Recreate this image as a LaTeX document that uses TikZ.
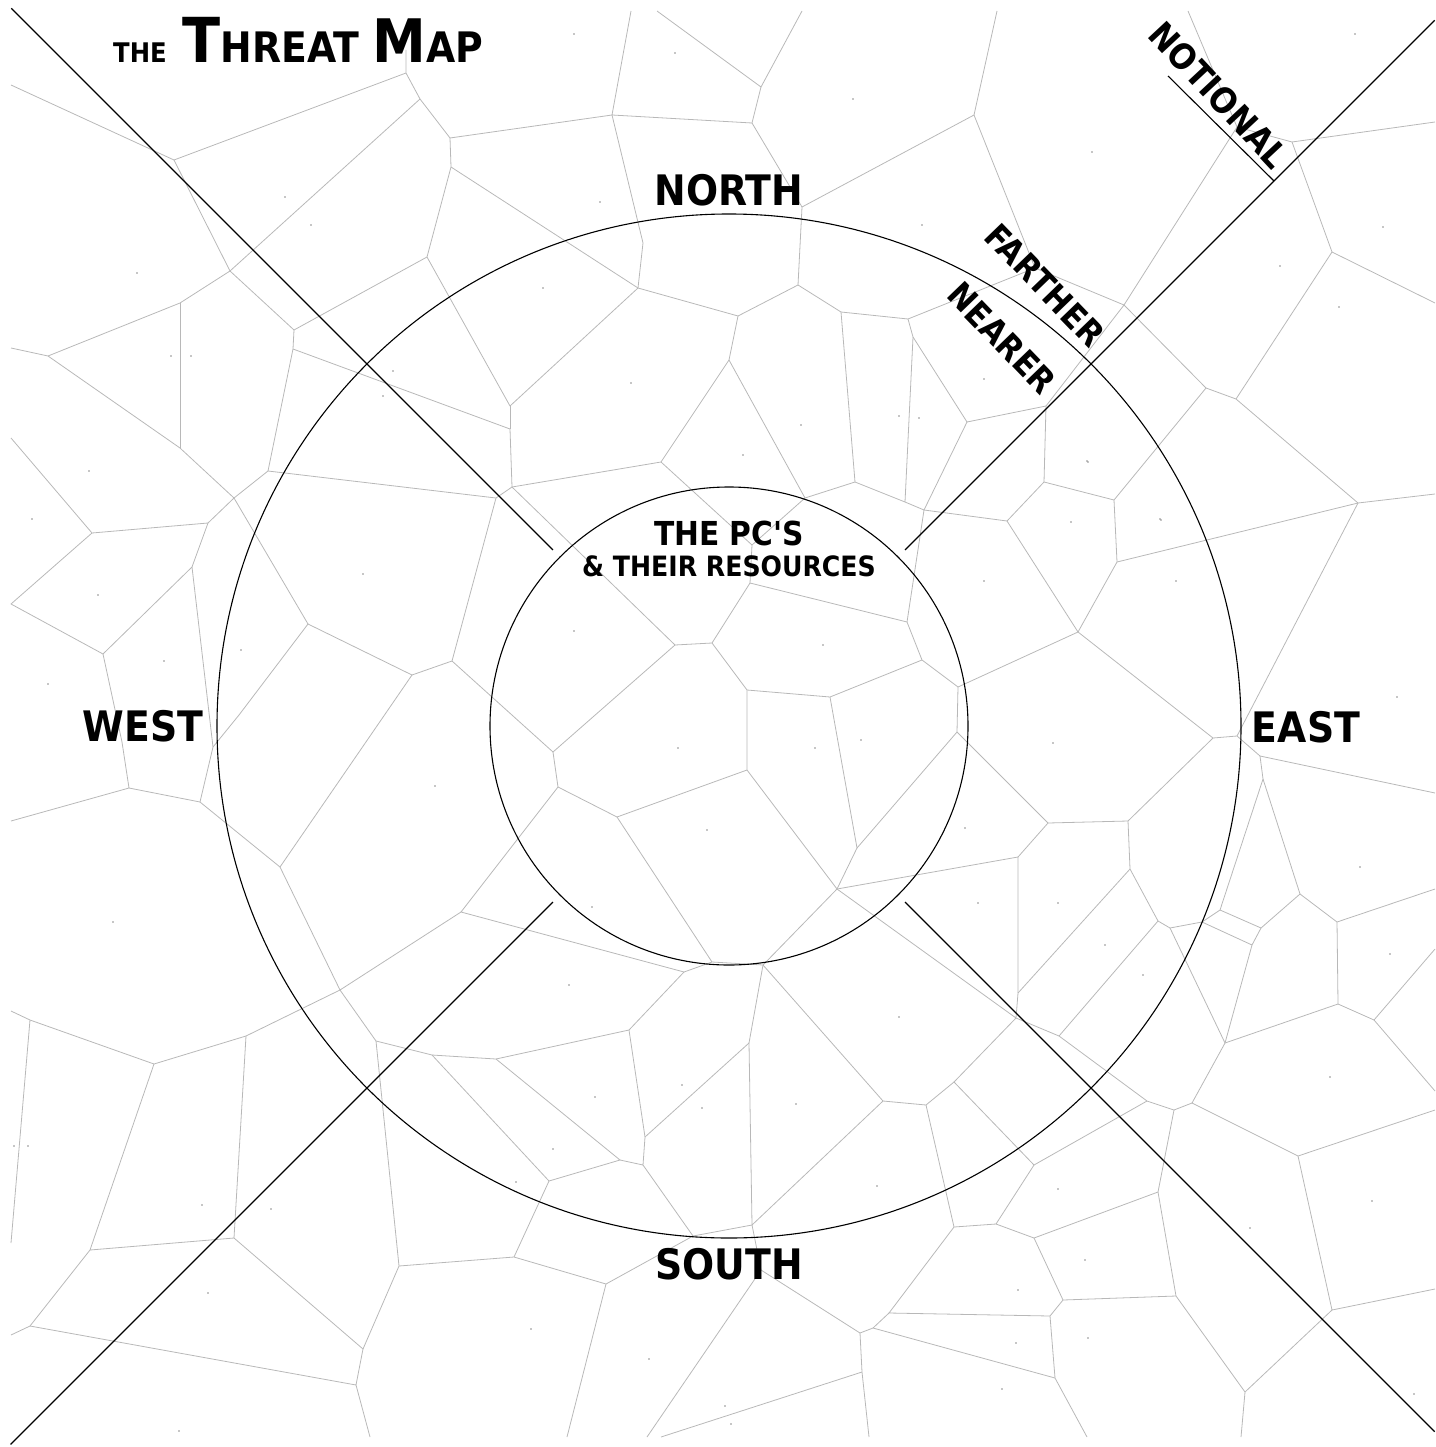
\documentclass[tikz,border=0pt]{standalone}
\usepackage{fontspec}
\usepackage{tikz}
\usetikzlibrary{calc}
\newfontfamily\grunge{DejaVu Sans}[FakeStretch=0.9]
\newcommand{\lblsize}[1]{\fontsize{#1}{#1}\selectfont}

\begin{document}
\begin{tikzpicture}[x=1pt, y=-1pt,
    cell/.style={black!28, line width=0.8pt, line join=round},
    seed/.style={fill=black!45},
    ring/.style={black, line width=1.1pt},
    ray/.style={black, line width=1.1pt},
    compass/.style={font=\grunge\bfseries\lblsize{42}, inner sep=0pt},
    band/.style={font=\grunge\bfseries\lblsize{34}, inner sep=0pt, rotate=-46}]
    \useasboundingbox (0,0) rectangle (1435,1447);

    % Voronoi cells, top left
    \draw[cell] (631,11) -- (612,115) -- (752,123);
    \draw[cell] (612,115) -- (450,138) -- (420,99) -- (406,73) -- (406,50);
    \draw[cell] (406,73) -- (174,160) -- (11,85);
    \draw[cell] (174,160) -- (230,271) -- (420,99);
    \draw[cell] (230,271) -- (294,330);
    \draw[cell] (230,271) -- (180,303) -- (48,356) -- (11,348);
    \draw[cell] (180,303) -- (180,448);
    \draw[cell] (48,356) -- (180,448) -- (234,498);
    \draw[cell] (11,438) -- (92,533) -- (208,523) -- (234,498) -- (268,471);
    \draw[cell] (234,498) -- (308,624);
    \draw[cell] (268,471) -- (293,349) -- (294,330) -- (427,257) -- (451,167) -- (450,138);
    \draw[cell] (293,349) -- (510,429) -- (512,487);
    \draw[cell] (268,471) -- (496,498) -- (512,487);
    \draw[cell] (451,167) -- (638,288) -- (510,406) -- (427,257);
    \draw[cell] (510,406) -- (510,429);
    \draw[cell] (638,288) -- (643,243) -- (612,115);
    \draw[cell] (638,288) -- (738,316);
    \draw[cell] (512,487) -- (661,462) -- (729,360);
    \draw[cell] (661,462) -- (752,545);
    \draw[cell] (512,487) -- (675,645);
    \draw[cell] (496,498) -- (452,661) -- (412,675) -- (308,624);
    \draw[cell] (452,661) -- (553,752);
    \draw[cell] (308,624) -- (239,715) -- (213,747);
    \draw[cell] (192,567) -- (213,747) -- (200,802);
    \draw[cell] (208,523) -- (192,567) -- (103,654) -- (11,604) -- (92,533);
    \draw[cell] (103,654) -- (122,742) -- (129,788) -- (11,821);
    \draw[cell] (129,788) -- (200,802) -- (280,867) -- (412,675);

    % Voronoi cells, top right
    \draw[cell] (657,11) -- (761,87) -- (802,11);
    \draw[cell] (761,87) -- (752,123) -- (802,207) -- (974,115) -- (997,11);
    \draw[cell] (802,207) -- (798,285) -- (738,316) -- (729,360);
    \draw[cell] (729,360) -- (805,498) -- (855,482) -- (841,312) -- (798,285);
    \draw[cell] (841,312) -- (908,319) -- (913,337) -- (905,502) -- (855,482);
    \draw[cell] (805,498) -- (752,545) -- (750,583);
    \draw[cell] (913,337) -- (967,422);
    \draw[cell] (905,502) -- (924,510) -- (907,622);
    \draw[cell] (924,510) -- (967,422) -- (1046,406) -- (1124,305);
    \draw[cell] (924,510) -- (1007,521) -- (1044,482) -- (1046,406);
    \draw[cell] (1007,521) -- (1078,632);
    \draw[cell] (1044,482) -- (1114,500) -- (1117,562) -- (1078,632);
    \draw[cell] (1114,500) -- (1206,388) -- (1124,305);
    \draw[cell] (1206,388) -- (1236,399) -- (1332,252) -- (1292,142) -- (1237,127) -- (1124,305);
    \draw[cell] (1237,127) -- (1188,11);
    \draw[cell] (1292,142) -- (1435,122);
    \draw[cell] (1332,252) -- (1435,303);
    \draw[cell] (1236,399) -- (1358,503) -- (1435,494);
    \draw[cell] (1358,503) -- (1117,562);
    \draw[cell] (1358,503) -- (1237,736);
    \draw[cell] (1124,305) -- (1035,268) -- (974,115);
    \draw[cell] (1035,268) -- (908,319);

    % Voronoi cells, middle
    \draw[cell] (675,645) -- (712,643) -- (750,583) -- (907,622) -- (922,660) -- (958,687) -- (1078,632);
    \draw[cell] (675,645) -- (553,752) -- (558,787) -- (617,817) -- (747,770) -- (747,690) -- (712,643);
    \draw[cell] (747,690) -- (830,697) -- (922,660);
    \draw[cell] (830,697) -- (857,848) -- (957,732) -- (958,687);
    \draw[cell] (747,770) -- (837,889) -- (857,848);
    \draw[cell] (617,817) -- (712,962) -- (763,965) -- (837,889);
    \draw[cell] (558,787) -- (461,912) -- (684,972) -- (712,962);
    \draw[cell] (837,889) -- (1018,857) -- (1048,823) -- (957,732);
    \draw[cell] (837,889) -- (1016,1018) -- (1018,993) -- (1018,857);
    \draw[cell] (1048,823) -- (1128,821) -- (1213,738) -- (1237,736) -- (1260,756) -- (1435,793);
    \draw[cell] (1213,738) -- (1078,632);

    % Voronoi cells, bottom right
    \draw[cell] (1128,821) -- (1130,869) -- (1018,993);
    \draw[cell] (1130,869) -- (1158,921) -- (1170,928) -- (1202,922) -- (1220,910) -- (1263,779) -- (1260,756);
    \draw[cell] (1220,910) -- (1261,928) -- (1300,894) -- (1263,779);
    \draw[cell] (1202,922) -- (1252,945) -- (1261,928);
    \draw[cell] (1252,945) -- (1225,1043) -- (1170,928);
    \draw[cell] (1300,894) -- (1337,922) -- (1435,889);
    \draw[cell] (1337,922) -- (1338,1004) -- (1374,1020) -- (1435,949);
    \draw[cell] (1374,1020) -- (1435,1091);
    \draw[cell] (1338,1004) -- (1225,1043) -- (1192,1103) -- (1298,1156) -- (1435,1110);
    \draw[cell] (1298,1156) -- (1332,1310) -- (1435,1289);
    \draw[cell] (1332,1310) -- (1245,1392) -- (1241,1437);
    \draw[cell] (1245,1392) -- (1176,1296) -- (1158,1192) -- (1174,1110) -- (1192,1103);
    \draw[cell] (1174,1110) -- (1147,1101) -- (1059,1036) -- (1158,921);
    \draw[cell] (1059,1036) -- (1016,1018) -- (954,1082) -- (1034,1165) -- (1147,1101);
    \draw[cell] (1034,1165) -- (996,1224) -- (1034,1238) -- (1158,1192);
    \draw[cell] (1034,1238) -- (1063,1300) -- (1176,1296);
    \draw[cell] (1063,1300) -- (1050,1316) -- (1055,1378) -- (1087,1437);
    \draw[cell] (1050,1316) -- (889,1313) -- (954,1227) -- (996,1224);
    \draw[cell] (954,1227) -- (926,1105) -- (954,1082);
    \draw[cell] (926,1105) -- (883,1101) -- (763,965) -- (749,1043) -- (752,1225) -- (883,1101);
    \draw[cell] (749,1043) -- (645,1137);
    \draw[cell] (752,1225) -- (693,1236) -- (643,1165);
    \draw[cell] (752,1225) -- (761,1270) -- (860,1333) -- (873,1328) -- (889,1313);
    \draw[cell] (873,1328) -- (1055,1378);
    \draw[cell] (860,1333) -- (862,1372) -- (869,1437);
    \draw[cell] (862,1372) -- (661,1437);
    \draw[cell] (761,1270) -- (647,1437);

    % Voronoi cells, bottom left
    \draw[cell] (461,912) -- (340,990) -- (280,867);
    \draw[cell] (340,990) -- (376,1041) -- (432,1055) -- (496,1059) -- (629,1030) -- (684,972);
    \draw[cell] (340,990) -- (246,1036) -- (154,1064) -- (30,1020) -- (11,1011);
    \draw[cell] (30,1020) -- (11,1243);
    \draw[cell] (154,1064) -- (90,1250) -- (234,1238) -- (246,1036);
    \draw[cell] (90,1250) -- (30,1326) -- (11,1335);
    \draw[cell] (30,1326) -- (356,1385) -- (363,1349) -- (234,1238);
    \draw[cell] (356,1385) -- (370,1437);
    \draw[cell] (363,1349) -- (399,1266) -- (376,1041);
    \draw[cell] (399,1266) -- (514,1257) -- (549,1181) -- (432,1055);
    \draw[cell] (496,1059) -- (620,1160) -- (549,1181);
    \draw[cell] (620,1160) -- (643,1165) -- (645,1137) -- (629,1030);
    \draw[cell] (514,1257) -- (606,1284) -- (693,1236);
    \draw[cell] (606,1284) -- (567,1437);

    % Seed points
    \foreach \x/\y in {675/53, 574/34, 285/197, 311/225, 137/273, 543/288, 393/371, 383/396,
        171/356, 191/356, 89/471, 32/519, 98/595, 241/650, 164/661, 48/684, 363/574, 600/202,
        631/383, 853/99, 1092/152, 922/225, 1355/34, 1383/227, 1280/266, 1339/307, 984/379,
        899/416, 919/418, 801/425, 743/455, 1087/461, 1160/519, 1176/581, 984/581, 823/645,
        574/631, 678/748, 815/748, 861/740, 707/830, 592/907, 965/828, 435/786, 113/922,
        14/1146, 28/1146, 202/1205, 271/1209, 208/1293, 569/985, 595/1097, 553/1149, 516/1182,
        682/1085, 702/1108, 531/1329, 649/1359, 179/1431, 1053/743, 899/1017, 796/1104,
        877/1186, 978/903, 1058/903, 1105/945, 1143/975, 1360/867, 1390/954, 1330/1077,
        1372/1201, 1250/1228, 1085/1260, 1058/1189, 1018/1290, 1016/1343, 1088/1338,
        1002/1389, 725/1406, 731/1424, 1414/1394, 1088/462, 1071/522, 1161/520, 1397/697} {
        \fill[seed] (\x,\y) circle (0.9);
    }

    % Rings and quadrant rays
    \coordinate (c) at (729,726);
    \draw[ring] (c) circle (239);
    \draw[ring] (c) circle (512);
    \foreach \ang/\len in {45/998, 135/1016, 225/1015, 315/998} {
        \draw[ray] ($(c)+(\ang:249)$) -- ($(c)+(\ang:\len)$);
    }
    \coordinate (tickfoot) at (1274,181);
    \coordinate (tickend) at (1168,76);
    \draw[ray] (tickfoot) -- (tickend);

    % Labels
    \node[anchor=base west, font=\grunge\bfseries, inner sep=0pt] (title) at (113,63)
        {{\lblsize{27}THE}\hspace{16pt}{\lblsize{62}T}{\lblsize{42}HREAT}\hspace{13pt}{\lblsize{60}M}{\lblsize{42}AP}};
    \node[compass] (north) at (729,190) {NORTH};
    \node[compass] (south) at (729,1264) {SOUTH};
    \node[compass] (west) at (143,726) {WEST};
    \node[compass] (east) at (1306,727) {EAST};
    \node[font=\grunge\bfseries\lblsize{33}, inner sep=0pt] (pcs) at (729,533) {THE PC'S};
    \node[font=\grunge\bfseries\lblsize{28}, inner sep=0pt] (res) at (729,566) {\& THEIR RESOURCES};
    \node[band] (farther) at (1045,285) {FARTHER};
    \node[band] (nearer) at (1002,338) {NEARER};
    \node[band, font=\grunge\bfseries\lblsize{35}, rotate=-1] (notional) at (1219,95) {NOTIONAL};
\end{tikzpicture}
\end{document}
